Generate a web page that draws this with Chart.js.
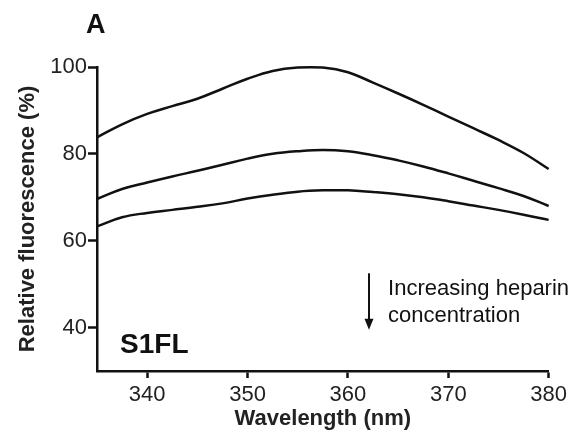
<!DOCTYPE html>
<html>
<head>
<meta charset="utf-8">
<script src="https://cdn.jsdelivr.net/npm/chart.js@4/dist/chart.umd.min.js"></script>
<style>
  html, body { margin: 0; padding: 0; background: #fff; }
  #wrap { width: 571px; height: 442px; position: relative; }
</style>
</head>
<body>
<div id="wrap"><canvas id="c" width="571" height="442"></canvas></div>
<script>
// ---- Data ----
const wavelengths = [335, 337.5, 340, 342.5, 345, 347.5, 350, 352.5, 355, 357.5, 360, 362.5, 365, 367.5, 370, 372.5, 375, 377.5, 380];
const seriesLow = [83.8, 86.8, 89.2, 91.0, 92.7, 95.0, 97.3, 99.1, 99.9, 99.9, 98.8, 96.4, 93.9, 91.3, 88.6, 85.9, 83.2, 80.2, 76.5];
const seriesMid = [69.6, 71.9, 73.4, 74.8, 76.1, 77.5, 78.9, 80.0, 80.6, 80.9, 80.6, 79.7, 78.5, 77.1, 75.5, 73.8, 72.1, 70.3, 68.0];
const seriesHigh = [63.3, 65.4, 66.4, 67.1, 67.8, 68.6, 69.7, 70.6, 71.3, 71.6, 71.6, 71.2, 70.7, 70.0, 69.1, 68.1, 67.1, 66.0, 64.8];
const xTicks = [340, 350, 360, 370, 380];
const yTicks = [40, 60, 80, 100];
const panelLabel = 'A';
const sampleLabel = 'S1FL';
const noteLines = ['Increasing heparin', 'concentration'];

const FONT = '"Liberation Sans", Arial, Helvetica, sans-serif';

function toPoints(ys) { return wavelengths.map((x, i) => ({ x: x, y: ys[i] })); }

function lineDs(label, ys) {
  return {
    label: label,
    data: toPoints(ys),
    showLine: true,
    borderColor: '#111',
    borderWidth: 2.5,
    pointRadius: 0,
    fill: false,
    tension: 0.4,
    clip: 6
  };
}

const annotate = {
  id: 'annotate',
  afterDraw(chart) {
    const ctx = chart.ctx;
    const xs = chart.scales.x, ys = chart.scales.y;
    ctx.save();
    ctx.fillStyle = '#111';
    ctx.font = 'bold 27px ' + FONT;
    ctx.textAlign = 'left';
    ctx.textBaseline = 'alphabetic';
    ctx.fillText(panelLabel, chart.chartArea.left - 11, 33);
    ctx.font = 'bold 28px ' + FONT;
    ctx.fillText(sampleLabel, xs.getPixelForValue(337.3), ys.getPixelForValue(34.15));
    ctx.font = '22px ' + FONT;
    ctx.fillText(noteLines[0], xs.getPixelForValue(364.0), ys.getPixelForValue(47.6));
    ctx.fillText(noteLines[1], xs.getPixelForValue(364.0), ys.getPixelForValue(41.2));
    const ax = xs.getPixelForValue(362.1);
    const ay0 = ys.getPixelForValue(52.5);
    const ay1 = ys.getPixelForValue(39.5);
    ctx.strokeStyle = '#111';
    ctx.lineWidth = 2;
    ctx.beginPath();
    ctx.moveTo(ax, ay0);
    ctx.lineTo(ax, ay1 - 8);
    ctx.stroke();
    ctx.beginPath();
    ctx.moveTo(ax - 4.5, ay1 - 11);
    ctx.lineTo(ax + 4.5, ay1 - 11);
    ctx.lineTo(ax, ay1);
    ctx.closePath();
    ctx.fill();
    ctx.restore();
  }
};

new Chart(document.getElementById('c'), {
  type: 'scatter',
  data: {
    datasets: [
      lineDs('Low heparin', seriesLow),
      lineDs('Mid heparin', seriesMid),
      lineDs('High heparin', seriesHigh)
    ]
  },
  options: {
    responsive: false,
    animation: false,
    devicePixelRatio: 1,
    layout: { padding: { top: 67, right: 14, left: 0, bottom: 0 } },
    plugins: { legend: { display: false }, tooltip: { enabled: false } },
    scales: {
      x: {
        type: 'linear',
        min: 335, max: 380,
        afterBuildTicks(s) { s.ticks = xTicks.map(v => ({ value: v })); },
        afterFit(s) { s.height = 71; },
        border: { display: true, color: '#111', width: 2.5 },
        grid: { display: true, drawOnChartArea: false, drawTicks: true, tickLength: 7, tickColor: '#111', tickWidth: 2.5 },
        ticks: { color: '#222', font: { family: FONT, size: 22 }, padding: 4, maxRotation: 0 },
        title: { display: true, text: 'Wavelength (nm)', color: '#222', font: { family: FONT, size: 22, weight: 'bold' }, padding: { top: 0, bottom: 10 } }
      },
      y: {
        type: 'linear',
        min: 30, max: 100,
        afterBuildTicks(s) { s.ticks = yTicks.map(v => ({ value: v })); },
        afterFit(s) { s.width = 97; },
        border: { display: true, color: '#111', width: 2.5 },
        grid: { display: true, drawOnChartArea: false, drawTicks: true, tickLength: 9, tickColor: '#111', tickWidth: 2.5 },
        ticks: { color: '#222', font: { family: FONT, size: 22 }, padding: 1 },
        title: { display: true, text: 'Relative fluorescence (%)', color: '#222', font: { family: FONT, size: 22, weight: 'bold' }, padding: { top: 15, bottom: 0 } }
      }
    }
  },
  plugins: [annotate]
});
</script>
</body>
</html>
